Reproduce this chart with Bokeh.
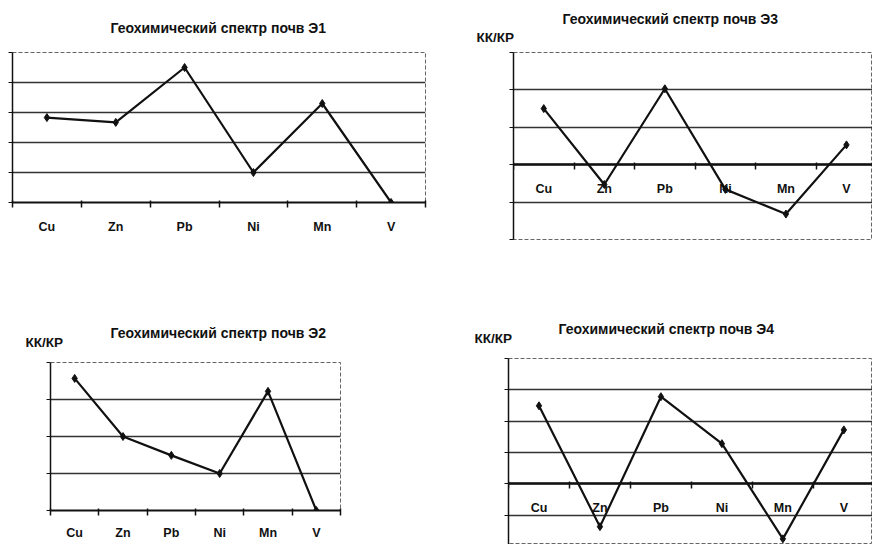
import math

from bokeh.plotting import figure
from bokeh.layouts import column, row
from bokeh.models import (Range1d, FixedTicker, Title, ColumnDataSource,
                          CustomJSTickFormatter)
from bokeh.embed import file_html
from bokeh.resources import INLINE

# Chemical elements along the spectrum
elements = ["Cu", "Zn", "Pb", "Ni", "Mn", "V"]

# КК/КР values for each soil sample
soil_e1 = [2.83, 2.67, 4.5, 1.0, 3.3, 0.0]
soil_e2 = [3.57, 2.0, 1.49, 1.0, 3.22, 0.0]
soil_e3 = [1.5, -0.53, 2.03, -0.66, -1.32, 0.53]
soil_e4 = [2.49, -1.37, 2.78, 1.28, -1.76, 1.72]

titles = [
    "Геохимический спектр почв Э1",
    "Геохимический спектр почв Э2",
    "Геохимический спектр почв Э3",
    "Геохимический спектр почв Э4",
]
y_caption = "КК/КР"

FONT = "Liberation Sans"
INK = "#111111"


def text_title(text, offset, standoff, size):
    return Title(text=text, align="left", offset=offset, standoff=standoff,
                 text_font=FONT, text_font_style="bold",
                 text_font_size=size, text_color=INK)


def panel(values, title, y_lo, y_hi, x_hi, width, height, bl, br, bt, bb,
          title_pos, caption_pos=None, zero_axis=False, label_standoff=8):
    x = list(range(1, len(elements) + 1))
    src = ColumnDataSource(dict(x=x, y=values, name=elements))
    p = figure(width=width, height=height, output_backend="svg",
               toolbar_location=None, x_range=Range1d(0.5, x_hi),
               y_range=Range1d(y_lo, y_hi),
               min_border_left=bl, min_border_right=br,
               min_border_top=bt, min_border_bottom=bb)
    p.background_fill_color = "white"
    p.border_fill_color = "white"
    p.outline_line_color = "#666666"
    p.outline_line_dash = "4 2"
    p.outline_line_width = 1

    # horizontal grid at every integer step
    grid_ticks = list(range(math.ceil(y_lo), math.floor(y_hi) + 1))
    p.xgrid.visible = False
    p.ygrid.ticker = FixedTicker(ticks=grid_ticks)
    p.ygrid.grid_line_color = "#333333"
    p.ygrid.grid_line_width = 1.3

    # element axis: names at the centres, ticks at the boundaries
    xa = p.xaxis[0]
    xa.ticker = FixedTicker(ticks=x, minor_ticks=[i + 0.5 for i in range(0, len(elements) + 1)])
    xa.major_label_overrides = {i: n for i, n in zip(x, elements)}
    xa.major_tick_in = 0
    xa.major_tick_out = 0
    xa.minor_tick_in = 2
    xa.minor_tick_out = 5
    xa.minor_tick_line_color = INK
    xa.minor_tick_line_width = 1.5
    xa.axis_line_color = INK
    xa.axis_line_width = 2.5 if zero_axis else 2
    xa.major_label_text_font = FONT
    xa.major_label_text_font_style = "bold"
    xa.major_label_text_font_size = "12.5px"
    xa.major_label_text_color = INK
    xa.major_label_standoff = label_standoff
    if zero_axis:
        xa.fixed_location = 0

    # value axis: tick marks only
    ya = p.yaxis[0]
    ya.ticker = FixedTicker(ticks=grid_ticks)
    ya.formatter = CustomJSTickFormatter(code="return ''")
    ya.major_label_standoff = 0
    ya.major_tick_in = 0
    ya.major_tick_out = 4
    ya.minor_tick_out = 0
    ya.minor_tick_in = 0
    ya.axis_line_color = INK
    ya.axis_line_width = 1.5
    ya.major_tick_line_color = INK

    p.line("x", "y", source=src, line_color=INK, line_width=2.2)
    p.scatter("x", "y", source=src, marker="diamond", size=8,
              fill_color=INK, line_color=INK)

    # caption sits nearest the frame, chart title above it
    if caption_pos is not None:
        p.add_layout(text_title(y_caption, caption_pos[0], caption_pos[1], "13.5px"), "above")
    p.add_layout(text_title(title, title_pos[0], title_pos[1], "14px"), "above")
    return p


p1 = panel(soil_e1, titles[0], 0, 5, 6.5, 436, 262, 12, 11, 52, 60,
           (98, 34), label_standoff=12)
p3 = panel(soil_e3, titles[2], -2, 3, 6.43, 436, 262, 77, 0, 52, 23,
           (49, -12), caption_pos=(-37, 15), zero_axis=True, label_standoff=12)
p2 = panel(soil_e2, titles[1], 0, 4, 6.5, 436, 282, 50, 96, 100, 34,
           (60, -42), caption_pos=(-25, 26), label_standoff=10)
p4 = panel(soil_e4, titles[3], -1.94, 4, 6.47, 436, 282, 72, 0, 96, 0,
           (50, -40), caption_pos=(-34, 25), zero_axis=True, label_standoff=12)

layout = column(row(column(p1), column(p3)), row(column(p2), column(p4)))
open("out.html", "w").write(file_html(layout, INLINE))
